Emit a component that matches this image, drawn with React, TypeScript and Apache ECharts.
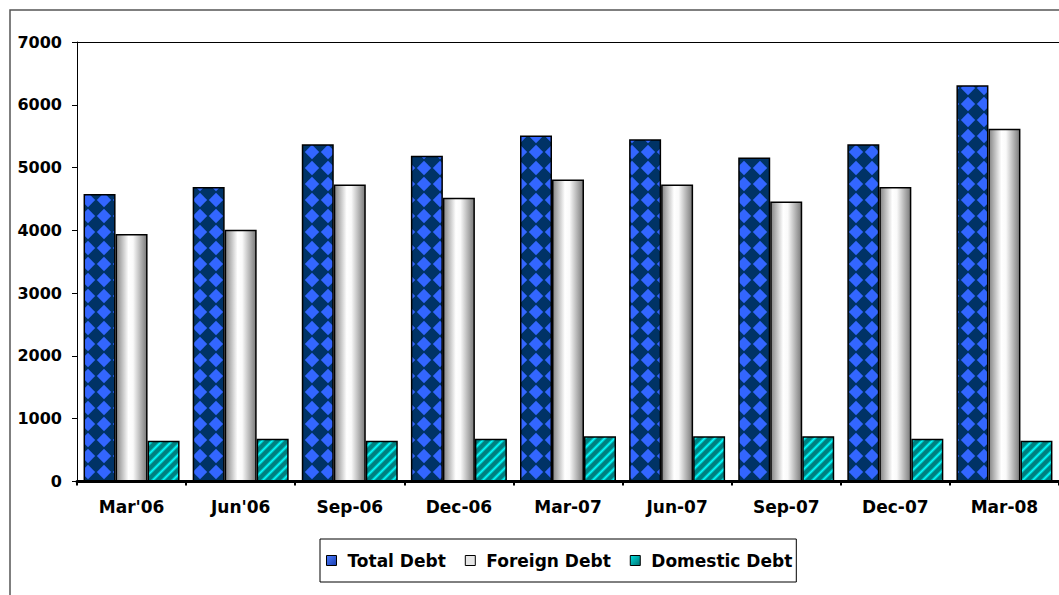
import React, { useEffect, useRef } from "react";
import * as echarts from "echarts";

const categories = ["Mar'06", "Jun'06", "Sep-06", "Dec-06", "Mar-07", "Jun-07", "Sep-07", "Dec-07", "Mar-08"];
const totalDebt = [4580, 4690, 5370, 5190, 5510, 5450, 5160, 5370, 6310];
const foreignDebt = [3940, 4010, 4730, 4520, 4810, 4730, 4460, 4690, 5620];
const domesticDebt = [650, 680, 650, 680, 720, 720, 720, 680, 650];
const seriesNames = ["Total Debt", "Foreign Debt", "Domestic Debt"];
const yTicks = { min: 0, max: 7000, interval: 1000 };

const FONT = "DejaVu Sans";

function diamondPattern(): string {
  const s = 16;
  const c = document.createElement("canvas");
  c.width = s;
  c.height = s;
  const ctx = c.getContext("2d")!;
  ctx.fillStyle = "#003366";
  ctx.fillRect(0, 0, s, s);
  ctx.filter = "blur(0.5px)";
  ctx.fillStyle = "#3366FF";
  ctx.beginPath();
  ctx.moveTo(8, 0.8);
  ctx.lineTo(15.2, 8);
  ctx.lineTo(8, 15.2);
  ctx.lineTo(0.8, 8);
  ctx.closePath();
  ctx.fill();
  return c.toDataURL();
}

function stripePattern(): string {
  const s = 10;
  const c = document.createElement("canvas");
  c.width = s;
  c.height = s;
  const ctx = c.getContext("2d")!;
  const g = ctx.createLinearGradient(0, 0, s, s);
  g.addColorStop(0, "#008080");
  g.addColorStop(0.15, "#00FFFF");
  g.addColorStop(0.3, "#008080");
  g.addColorStop(0.5, "#008080");
  g.addColorStop(0.65, "#00FFFF");
  g.addColorStop(0.8, "#008080");
  g.addColorStop(1, "#008080");
  ctx.fillStyle = g;
  ctx.fillRect(0, 0, s, s);
  return c.toDataURL();
}

export default function App() {
  const ref = useRef<HTMLDivElement>(null);
  useEffect(() => {
    if (!ref.current) return;
    const chart = echarts.init(ref.current, null, { renderer: "svg" });
    const diamond = diamondPattern();
    const stripe = stripePattern();
    const greyGrad = new echarts.graphic.LinearGradient(0, 0, 1, 0, [
      { offset: 0, color: "#858585" },
      { offset: 0.4, color: "#ffffff" },
      { offset: 0.55, color: "#fafafa" },
      { offset: 1, color: "#7a7a7a" },
    ]);
    const barBase = {
      type: "bar" as const,
      barWidth: 32,
      barGap: "0%",
    };
    chart.setOption({
      animation: false,
      backgroundColor: "#ffffff",
      textStyle: { fontFamily: FONT },
      graphic: [
        {
          type: "rect",
          shape: { x: 10, y: 10, width: 1200, height: 800 },
          style: { fill: "none", stroke: "#555555", lineWidth: 1.5 },
          silent: true,
        },
      ],
      grid: { left: 77, top: 42, width: 987, height: 439.5, containLabel: false },
      legend: {
        left: 320,
        top: 539,
        padding: [13, 4, 13, 6],
        itemWidth: 10,
        itemHeight: 10,
        itemGap: 19,
        borderColor: "#000",
        borderWidth: 1,
        backgroundColor: "#fff",
        icon: "rect",
        textStyle: {
          fontFamily: FONT,
          fontWeight: "bold",
          fontSize: 17,
          color: "#000",
          padding: [0, 0, 0, 6],
        },
        itemStyle: { borderColor: "#000", borderWidth: 1 },
        data: [
          {
            name: seriesNames[0],
            itemStyle: {
              color: new echarts.graphic.LinearGradient(0, 0, 1, 1, [
                { offset: 0, color: "#4d7dff" },
                { offset: 1, color: "#1a3fb0" },
              ]),
            },
          },
          { name: seriesNames[1], itemStyle: { color: "#e6e6e6" } },
          {
            name: seriesNames[2],
            itemStyle: {
              color: new echarts.graphic.LinearGradient(0, 0, 1, 1, [
                { offset: 0, color: "#00e0e0" },
                { offset: 1, color: "#007070" },
              ]),
            },
          },
        ],
      },
      xAxis: [
        {
          type: "category",
          data: categories,
          boundaryGap: true,
          axisLine: { show: true, lineStyle: { color: "#000", width: 3 } },
          axisTick: { show: true, length: 4, lineStyle: { color: "#000", width: 2 } },
          axisLabel: {
            margin: 17,
            color: "#000",
            fontFamily: FONT,
            fontWeight: "bold",
            fontSize: 17,
          },
        },
        {
          type: "category",
          data: categories,
          position: "top",
          axisLine: { show: true, lineStyle: { color: "#000", width: 1 } },
          axisTick: { show: false },
          axisLabel: { show: false },
        },
      ],
      yAxis: {
        type: "value",
        min: yTicks.min,
        max: yTicks.max,
        interval: yTicks.interval,
        axisLine: { show: true, lineStyle: { color: "#000", width: 1 } },
        axisTick: { show: true, length: 5, lineStyle: { color: "#000", width: 1 } },
        splitLine: { show: false },
        axisLabel: {
          margin: 15,
          color: "#000",
          fontFamily: FONT,
          fontWeight: "bold",
          fontSize: 16,
          formatter: (v: number) => String(v),
        },
      },
      series: [
        {
          ...barBase,
          name: seriesNames[0],
          data: totalDebt,
          itemStyle: {
            color: { image: diamond, repeat: "repeat", imageWidth: 16, imageHeight: 16 },
            borderColor: "#000",
            borderWidth: 1.5,
          },
        },
        {
          ...barBase,
          name: seriesNames[1],
          data: foreignDebt,
          itemStyle: { color: greyGrad, borderColor: "#000", borderWidth: 1.5 },
        },
        {
          ...barBase,
          name: seriesNames[2],
          data: domesticDebt,
          itemStyle: {
            color: { image: stripe, repeat: "repeat", imageWidth: 10, imageHeight: 10 },
            borderColor: "#000",
            borderWidth: 1.5,
          },
        },
      ],
    });
    return () => chart.dispose();
  }, []);
  return (
    <div
      ref={ref}
      style={{ position: "fixed", left: 0, top: 0, width: 1059, height: 595 }}
    />
  );
}
